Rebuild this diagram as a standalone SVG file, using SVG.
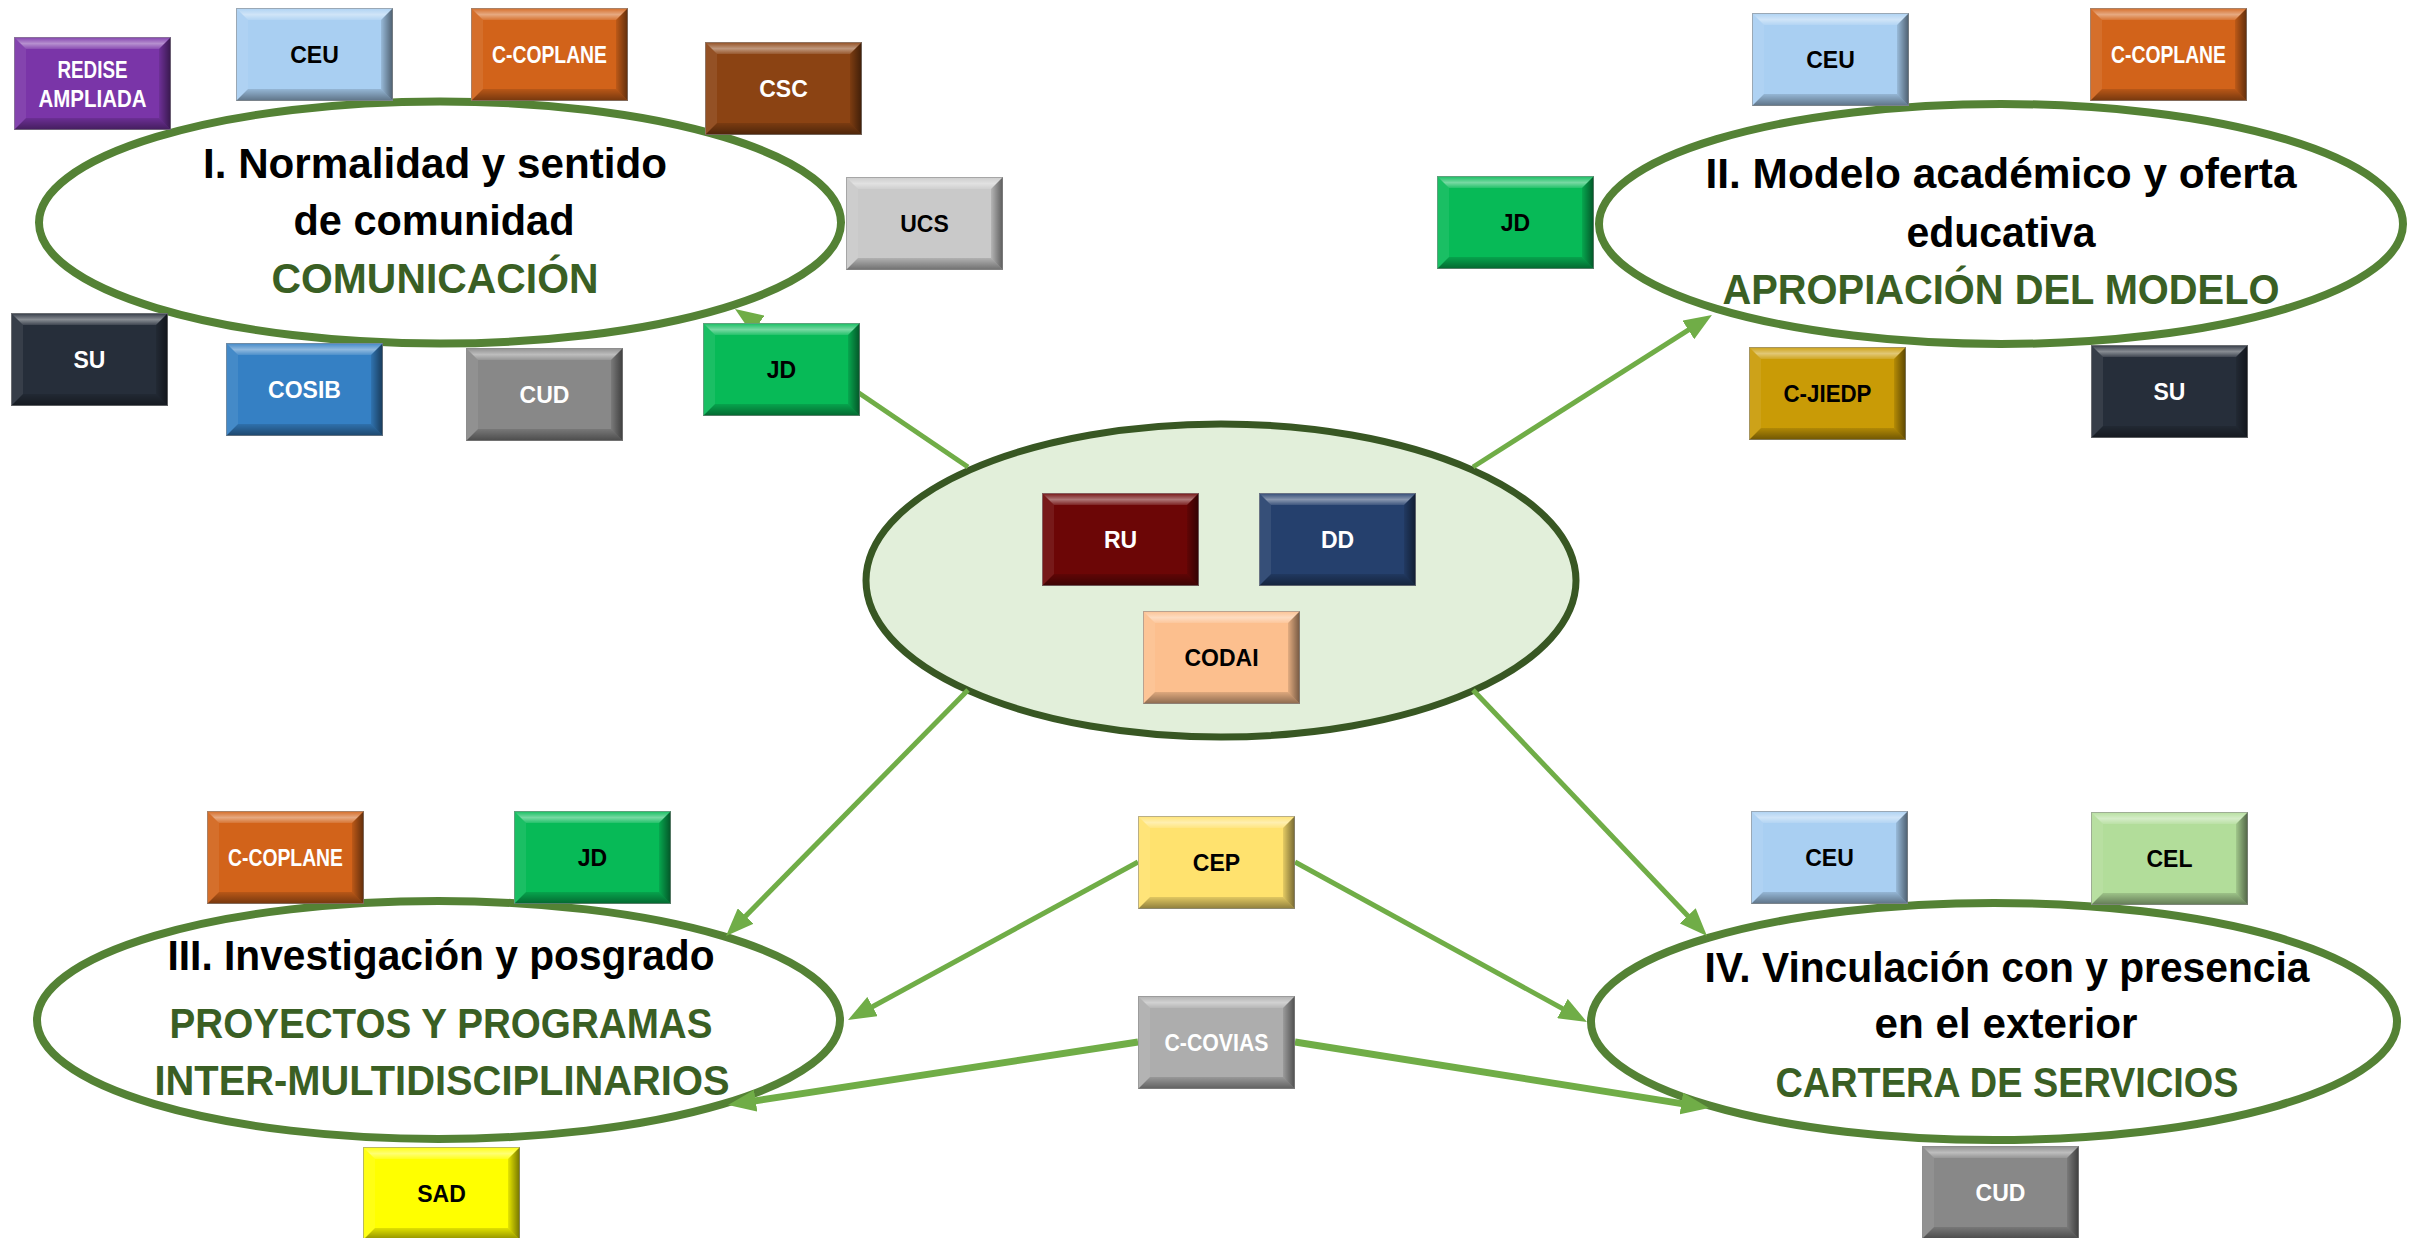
<svg xmlns="http://www.w3.org/2000/svg" xmlns:xlink="http://www.w3.org/1999/xlink" width="2420" height="1238" viewBox="0 0 2420 1238">
<style>
.ell{fill:#fff;stroke:#548235;stroke-width:8}
.cen{fill:#E2EFDA;stroke:#385723;stroke-width:7}
.t{font-family:"Liberation Sans",Arial,sans-serif;font-weight:bold;font-size:43px;text-anchor:middle;fill:#000}
.g{fill:#3A5F24}
.lb{font-family:"Liberation Sans",Arial,sans-serif;font-weight:bold;font-size:23px;text-anchor:middle}
.w{fill:#fff}.k{fill:#000}
.con{stroke:#70AD47;stroke-width:5;fill:none;marker-end:url(#ah)}
.con.thick{stroke-width:7}
</style>
<defs>
<marker id="ah" markerUnits="userSpaceOnUse" viewBox="0 0 28 22" markerWidth="28" markerHeight="22" refX="18" refY="11" orient="auto"><path d="M0,0 L28,11 L0,22 z" fill="#70AD47"/></marker>
<linearGradient id="gTop" x1="0" y1="0" x2="0" y2="1"><stop offset="0" stop-color="#fff" stop-opacity="0.05"/><stop offset="0.55" stop-color="#fff" stop-opacity="0.45"/><stop offset="1" stop-color="#fff" stop-opacity="0.12"/></linearGradient>
<linearGradient id="gBot" x1="0" y1="0" x2="0" y2="1"><stop offset="0" stop-color="#000" stop-opacity="0.12"/><stop offset="1" stop-color="#000" stop-opacity="0.45"/></linearGradient>
<linearGradient id="gRight" x1="0" y1="0" x2="1" y2="0"><stop offset="0" stop-color="#000" stop-opacity="0.1"/><stop offset="1" stop-color="#000" stop-opacity="0.55"/></linearGradient>
<g id="bevel">
<polygon points="0,0 157,0 145,12 12,12" fill="url(#gTop)"/>
<polygon points="0,93 12,81 145,81 157,93" fill="url(#gBot)"/>
<polygon points="0,0 12,12 12,81 0,93" fill="#fff" fill-opacity="0.08"/>
<polygon points="157,0 157,93 145,81 145,12" fill="url(#gRight)"/>
<rect x="0.5" y="0.5" width="156" height="92" fill="none" stroke="#8c8c8c" stroke-opacity="0.6" stroke-width="1"/>
</g>
</defs>
<rect width="2420" height="1238" fill="#fff"/>

<g id="ellipse-I"><ellipse class="ell" cx="440" cy="222.5" rx="401" ry="121"/>
<text class="t" x="435" y="178" textLength="464" lengthAdjust="spacingAndGlyphs">I. Normalidad y sentido</text>
<text class="t" x="434" y="235" textLength="281" lengthAdjust="spacingAndGlyphs">de comunidad</text>
<text class="t g" x="435" y="293" textLength="327" lengthAdjust="spacingAndGlyphs">COMUNICACIÓN</text></g>

<g id="ellipse-II"><ellipse class="ell" cx="2001" cy="224" rx="402" ry="120"/>
<text class="t" x="2001" y="188" textLength="591" lengthAdjust="spacingAndGlyphs">II. Modelo académico y oferta</text>
<text class="t" x="2001" y="247" textLength="189" lengthAdjust="spacingAndGlyphs">educativa</text>
<text class="t g" x="2001" y="304" textLength="557" lengthAdjust="spacingAndGlyphs">APROPIACIÓN DEL MODELO</text></g>

<g id="ellipse-III"><ellipse class="ell" cx="438.5" cy="1020" rx="401.5" ry="119"/>
<text class="t" x="441" y="970" textLength="547" lengthAdjust="spacingAndGlyphs">III. Investigación y posgrado</text>
<text class="t g" x="441" y="1038" textLength="543" lengthAdjust="spacingAndGlyphs">PROYECTOS Y PROGRAMAS</text>
<text class="t g" x="442" y="1095" textLength="575" lengthAdjust="spacingAndGlyphs">INTER-MULTIDISCIPLINARIOS</text></g>

<g id="ellipse-IV"><ellipse class="ell" cx="1994" cy="1021.5" rx="403" ry="118.5"/>
<text class="t" x="2007" y="982" textLength="605" lengthAdjust="spacingAndGlyphs">IV. Vinculación con y presencia</text>
<text class="t" x="2006" y="1038" textLength="263" lengthAdjust="spacingAndGlyphs">en el exterior</text>
<text class="t g" x="2007" y="1097" textLength="463" lengthAdjust="spacingAndGlyphs">CARTERA DE SERVICIOS</text></g>

<g id="center"><ellipse class="cen" cx="1221" cy="580.5" rx="355" ry="156.5"/></g>

<g id="connectors">
<line class="con" x1="968" y1="467" x2="743.3" y2="314.6"/>
<line class="con" x1="1473" y1="467" x2="1703.5" y2="320.3"/>
<line class="con" x1="968" y1="690" x2="733" y2="928.9"/>
<line class="con" x1="1473" y1="690" x2="1700.1" y2="928.8"/>
<line class="con" x1="1138" y1="862" x2="856.8" y2="1015.2"/>
<line class="con" x1="1295" y1="862" x2="1578.2" y2="1017.2"/>
<line class="con thick" x1="1138" y1="1042" x2="737.9" y2="1103.5"/>
<line class="con thick" x1="1295" y1="1042" x2="1699.1" y2="1106.4"/>
</g>

<g id="n-redise" transform="translate(14,37)"><rect width="157" height="93" fill="#7A35A8"/><use xlink:href="#bevel"/><text class="lb w" x="78.5" y="41" font-size="21" textLength="70" lengthAdjust="spacingAndGlyphs">REDISE</text><text class="lb w" x="78.5" y="70" font-size="21" textLength="108" lengthAdjust="spacingAndGlyphs">AMPLIADA</text></g>
<g id="n-ceu1" transform="translate(236,8)"><rect width="157" height="93" fill="#A9CFF2"/><use xlink:href="#bevel"/><text class="lb k" x="78.5" y="55">CEU</text></g>
<g id="n-coplane1" transform="translate(471,8)"><rect width="157" height="93" fill="#D2631A"/><use xlink:href="#bevel"/><text class="lb w" x="78.5" y="55" textLength="115" lengthAdjust="spacingAndGlyphs">C-COPLANE</text></g>
<g id="n-csc" transform="translate(705,42)"><rect width="157" height="93" fill="#8B4313"/><use xlink:href="#bevel"/><text class="lb w" x="78.5" y="55">CSC</text></g>
<g id="n-ucs" transform="translate(846,177)"><rect width="157" height="93" fill="#C9C9C9"/><use xlink:href="#bevel"/><text class="lb k" x="78.5" y="55">UCS</text></g>
<g id="n-su1" transform="translate(11,313)"><rect width="157" height="93" fill="#262E3A"/><use xlink:href="#bevel"/><text class="lb w" x="78.5" y="55">SU</text></g>
<g id="n-cosib" transform="translate(226,343)"><rect width="157" height="93" fill="#3580C4"/><use xlink:href="#bevel"/><text class="lb w" x="78.5" y="55">COSIB</text></g>
<g id="n-cud1" transform="translate(466,348)"><rect width="157" height="93" fill="#888888"/><use xlink:href="#bevel"/><text class="lb w" x="78.5" y="55">CUD</text></g>
<g id="n-jd1" transform="translate(703,323)"><rect width="157" height="93" fill="#07BA57"/><use xlink:href="#bevel"/><text class="lb k" x="78.5" y="55">JD</text></g>

<g id="n-ceu2" transform="translate(1752,13)"><rect width="157" height="93" fill="#A9CFF2"/><use xlink:href="#bevel"/><text class="lb k" x="78.5" y="55">CEU</text></g>
<g id="n-coplane2" transform="translate(2090,8)"><rect width="157" height="93" fill="#D2631A"/><use xlink:href="#bevel"/><text class="lb w" x="78.5" y="55" textLength="115" lengthAdjust="spacingAndGlyphs">C-COPLANE</text></g>
<g id="n-jd2" transform="translate(1437,176)"><rect width="157" height="93" fill="#07BA57"/><use xlink:href="#bevel"/><text class="lb k" x="78.5" y="55">JD</text></g>
<g id="n-cjiedp" transform="translate(1749,347)"><rect width="157" height="93" fill="#C99B06"/><use xlink:href="#bevel"/><text class="lb k" x="78.5" y="55" textLength="88" lengthAdjust="spacingAndGlyphs">C-JIEDP</text></g>
<g id="n-su2" transform="translate(2091,345)"><rect width="157" height="93" fill="#262E3A"/><use xlink:href="#bevel"/><text class="lb w" x="78.5" y="55">SU</text></g>

<g id="n-ru" transform="translate(1042,493)"><rect width="157" height="93" fill="#6C0606"/><use xlink:href="#bevel"/><text class="lb w" x="78.5" y="55">RU</text></g>
<g id="n-dd" transform="translate(1259,493)"><rect width="157" height="93" fill="#25406D"/><use xlink:href="#bevel"/><text class="lb w" x="78.5" y="55">DD</text></g>
<g id="n-codai" transform="translate(1143,611)"><rect width="157" height="93" fill="#FCBF8E"/><use xlink:href="#bevel"/><text class="lb k" x="78.5" y="55">CODAI</text></g>

<g id="n-coplane3" transform="translate(207,811)"><rect width="157" height="93" fill="#D2631A"/><use xlink:href="#bevel"/><text class="lb w" x="78.5" y="55" textLength="115" lengthAdjust="spacingAndGlyphs">C-COPLANE</text></g>
<g id="n-jd3" transform="translate(514,811)"><rect width="157" height="93" fill="#07BA57"/><use xlink:href="#bevel"/><text class="lb k" x="78.5" y="55">JD</text></g>
<g id="n-sad" transform="translate(363,1147)"><rect width="157" height="93" fill="#FFFF00"/><use xlink:href="#bevel"/><text class="lb k" x="78.5" y="55">SAD</text></g>
<g id="n-cep" transform="translate(1138,816)"><rect width="157" height="93" fill="#FFE26E"/><use xlink:href="#bevel"/><text class="lb k" x="78.5" y="55">CEP</text></g>
<g id="n-covias" transform="translate(1138,996)"><rect width="157" height="93" fill="#ADADAD"/><use xlink:href="#bevel"/><text class="lb w" x="78.5" y="55" textLength="104" lengthAdjust="spacingAndGlyphs">C-COVIAS</text></g>

<g id="n-ceu4" transform="translate(1751,811)"><rect width="157" height="93" fill="#A9CFF2"/><use xlink:href="#bevel"/><text class="lb k" x="78.5" y="55">CEU</text></g>
<g id="n-cel" transform="translate(2091,812)"><rect width="157" height="93" fill="#B2DD9A"/><use xlink:href="#bevel"/><text class="lb k" x="78.5" y="55">CEL</text></g>
<g id="n-cud4" transform="translate(1922,1146)"><rect width="157" height="93" fill="#888888"/><use xlink:href="#bevel"/><text class="lb w" x="78.5" y="55">CUD</text></g>
</svg>
